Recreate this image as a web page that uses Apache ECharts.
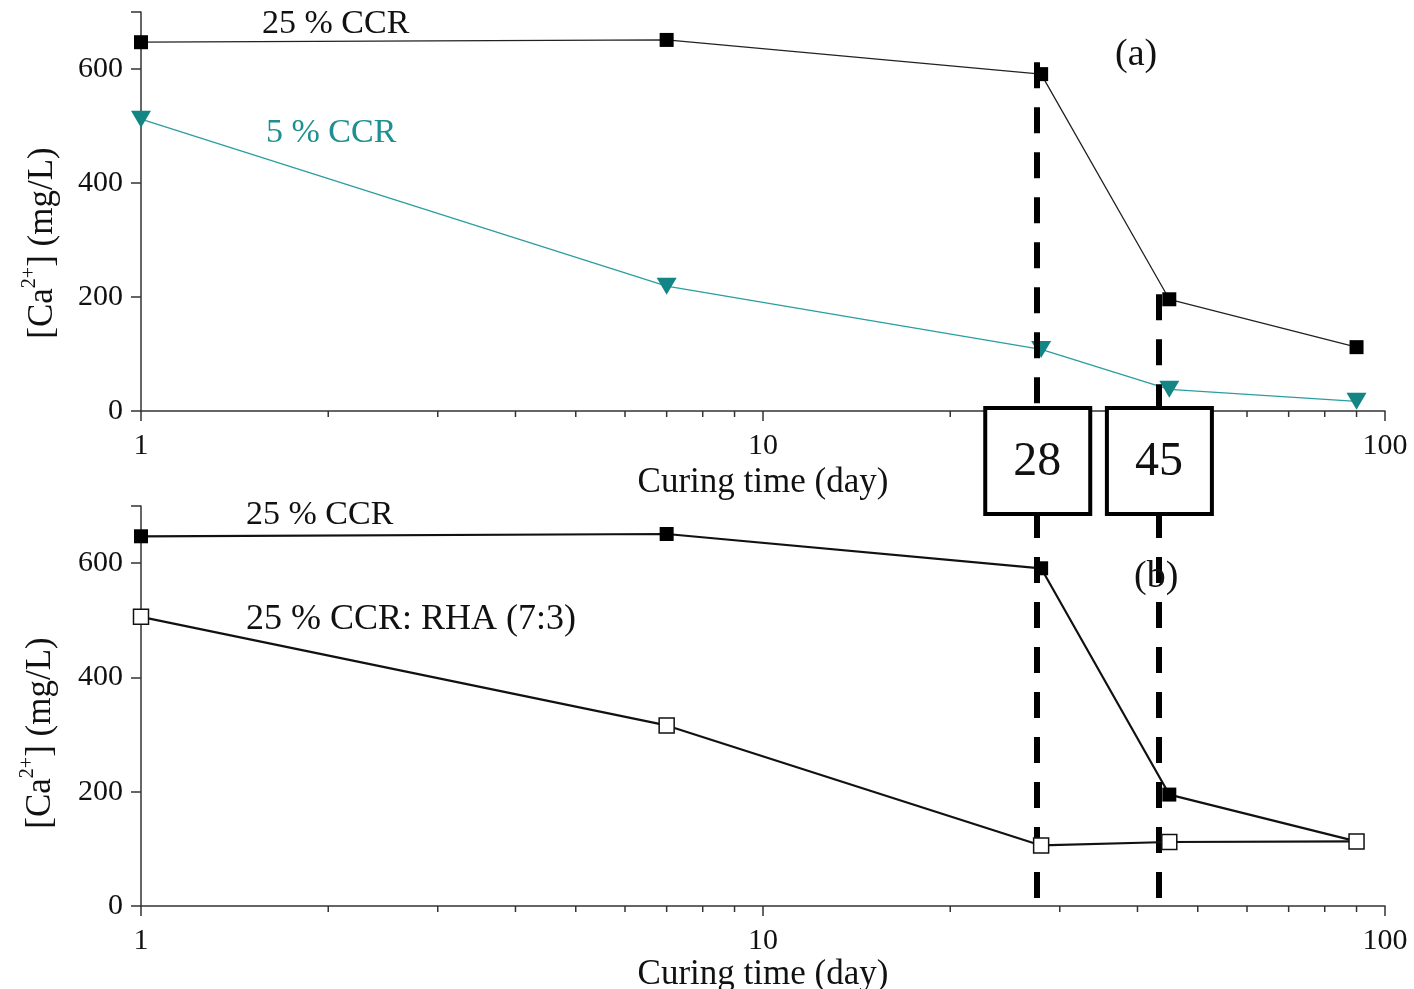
<!DOCTYPE html>
<html>
<head>
<meta charset="utf-8">
<script src="https://cdn.jsdelivr.net/npm/echarts@6/dist/echarts.min.js"></script>
<style>
  html, body { margin: 0; padding: 0; background: #fff; }
  #main { width: 1414px; height: 989px; }
</style>
</head>
<body>
<div id="main"></div>
<script>
// data
var days = [1, 7, 28, 45, 90];
var ccr25Top = [647, 651, 591, 196, 112];
var ccr5Top = [512, 219, 108, 38, 17];
var ccr25Bottom = [647, 651, 591, 195, 113];
var rhaBottom = [506, 316, 106, 112, 113];
var yTicks = [0, 200, 400, 600];
var minorDays = [2, 3, 4, 5, 6, 7, 8, 9, 20, 30, 40, 50, 60, 70, 80, 90];
// dashed guide lines (28 and 45 days) as drawn
var guideDays = [27.6, 43.3];
var guideLabels = ['28', '45'];

var serif = 'Liberation Serif';
var dom = document.getElementById('main');
var myChart = echarts.init(dom);

function pairs(xs, ys) {
    return xs.map(function (x, i) { return [x, ys[i]]; });
}

function xAxisCfg(idx, gap) {
    return {
        type: 'log', logBase: 10, min: 1, max: 100, gridIndex: idx,
        name: 'Curing time (day)', nameLocation: 'middle', nameGap: gap,
        nameTextStyle: { fontFamily: serif, fontSize: 35, color: '#111' },
        axisLine: { lineStyle: { color: '#333', width: 1.5 } },
        axisTick: { show: true, length: 10, lineStyle: { color: '#333', width: 1.5 } },
        axisLabel: { fontFamily: serif, fontSize: 30, color: '#111', margin: 20 },
        splitLine: { show: false }
    };
}
function yAxisCfg(idx) {
    return {
        type: 'value', min: 0, max: 700, interval: 200, gridIndex: idx,
        axisLine: { show: true, lineStyle: { color: '#333', width: 1.5 } },
        axisTick: { show: true, length: 10, lineStyle: { color: '#333', width: 1.5 } },
        axisLabel: {
            fontFamily: serif, fontSize: 30, color: '#111', margin: 18,
            formatter: function (v) { return yTicks.indexOf(v) >= 0 ? v : ''; }
        },
        splitLine: { show: false }
    };
}

function guideLine(x, fromY, toY) {
    return [{ coord: [x, fromY] }, { coord: [x, toY] }];
}
var guideStyle = { color: '#000', width: 6, type: [26, 19] };

var option = {
    backgroundColor: '#fff',
    animation: false,
    grid: [
        { left: 141, right: 29, top: 12, height: 399, outerBoundsMode: 'none', containLabel: false },
        { left: 141, right: 29, top: 506, height: 400, outerBoundsMode: 'none', containLabel: false }
    ],
    xAxis: [xAxisCfg(0, 54), xAxisCfg(1, 48)],
    yAxis: [yAxisCfg(0), yAxisCfg(1)],
    series: [
        {
            name: '25 % CCR', type: 'line', xAxisIndex: 0, yAxisIndex: 0,
            data: pairs(days, ccr25Top),
            symbol: 'rect', symbolSize: 14,
            itemStyle: { color: '#000' },
            lineStyle: { color: '#222', width: 1.3 },
            markLine: {
                silent: true, symbol: 'none', label: { show: false },
                lineStyle: guideStyle,
                data: [guideLine(guideDays[0], 612, 0), guideLine(guideDays[1], 205, 0)]
            }
        },
        {
            name: '5 % CCR', type: 'line', xAxisIndex: 0, yAxisIndex: 0,
            data: pairs(days, ccr5Top),
            symbol: 'triangle', symbolSize: [20, 17], symbolRotate: 180,
            itemStyle: { color: '#138585' },
            lineStyle: { color: '#2a9e9e', width: 1.3 }
        },
        {
            name: '25 % CCR (b)', type: 'line', xAxisIndex: 1, yAxisIndex: 1,
            data: pairs(days, ccr25Bottom),
            symbol: 'rect', symbolSize: 14,
            itemStyle: { color: '#000' },
            lineStyle: { color: '#111', width: 2.2 },
            markLine: {
                silent: true, symbol: 'none', label: { show: false },
                lineStyle: guideStyle,
                data: [guideLine(guideDays[0], 689.5, 14), guideLine(guideDays[1], 689.5, 14)]
            }
        },
        {
            name: '25 % CCR: RHA (7:3)', type: 'line', xAxisIndex: 1, yAxisIndex: 1,
            data: pairs(days, rhaBottom), z: 5,
            symbol: 'rect', symbolSize: 15,
            itemStyle: { color: '#fff', borderColor: '#111', borderWidth: 1.5 },
            lineStyle: { color: '#111', width: 2.2 }
        }
    ]
};
myChart.setOption(option);

// annotations placed through the chart's own scales
var g = [];
[0, 1].forEach(function (i) {
    var y0 = myChart.convertToPixel({ yAxisIndex: i }, 0);
    minorDays.forEach(function (d) {
        var px = myChart.convertToPixel({ xAxisIndex: i }, d);
        g.push({ type: 'line', silent: true, z: 50,
            shape: { x1: px, y1: y0, x2: px, y2: y0 + 6 },
            style: { stroke: '#333', lineWidth: 1.5 } });
    });
});

guideDays.forEach(function (d, k) {
    var cx = myChart.convertToPixel({ xAxisIndex: 0 }, d);
    g.push({ type: 'rect', z: 100,
        shape: { x: cx - 52, y: 408, width: 105, height: 106 },
        style: { fill: '#fff', stroke: '#000', lineWidth: 4 } });
    g.push({ type: 'text', z: 101, x: cx, y: 462,
        style: { text: guideLabels[k], font: '48px "Liberation Serif"', fill: '#111',
            align: 'center', verticalAlign: 'middle' } });
});

function label(x, y, text, color, size) {
    g.push({ type: 'text', z: 60, x: x, y: y,
        style: { text: text, font: (size || 34) + 'px "Liberation Serif"', fill: color || '#111',
            align: 'left', verticalAlign: 'middle' } });
}
label(262, 24, '25 % CCR');
label(266, 133, '5 % CCR', '#1f8f8f');
label(1115, 55, '(a)', '#111', 38);
label(246, 515, '25 % CCR');
label(246, 620, '25 % CCR: RHA (7:3)', '#111', 36);
label(1134, 577, '(b)', '#111', 38);

function yName(x, y) {
    g.push({ type: 'text', z: 60, x: x, y: y, rotation: Math.PI / 2,
        style: {
            text: '{b|[Ca}{s|2+}{b|] (mg/L)}',
            align: 'center', verticalAlign: 'middle',
            rich: {
                b: { fontFamily: serif, fontSize: 35, fill: '#111', verticalAlign: 'bottom', lineHeight: 40 },
                s: { fontFamily: serif, fontSize: 20, fill: '#111', verticalAlign: 'top', lineHeight: 40 }
            }
        } });
}
yName(40, 243);
yName(38, 733);

myChart.setOption({ graphic: g });
</script>
</body>
</html>
